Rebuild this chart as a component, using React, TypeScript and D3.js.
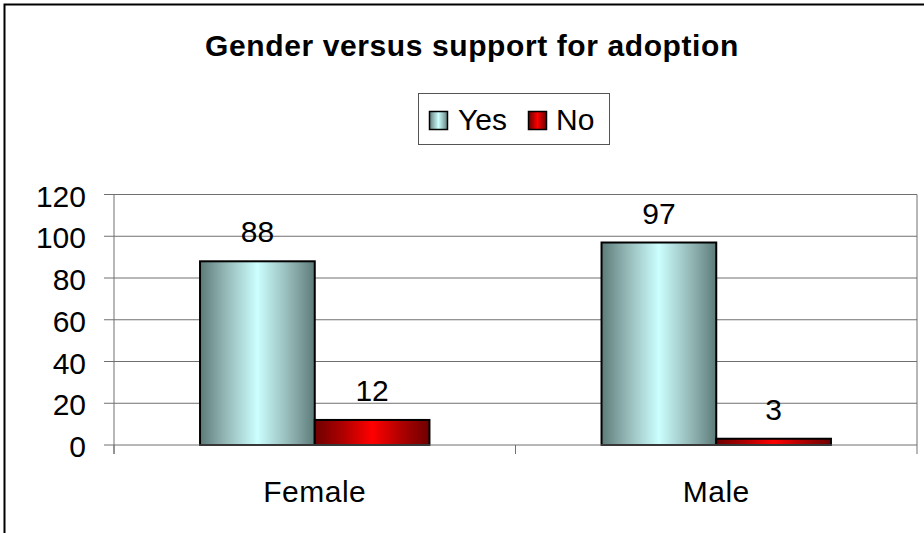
import React from "react";
import * as d3 from "d3";

const categories = ["Female", "Male"];
const seriesNames = ["Yes", "No"];
const yesValues = [88, 97];
const noValues = [12, 3];
const yTicks = [0, 20, 40, 60, 80, 100, 120];
const title = "Gender versus support for adoption";

const W = 924;
const H = 533;
const FONT = "'Liberation Sans', Arial, sans-serif";

export default function App() {
  const left = 114;
  const right = 917;
  const top = 194.5;
  const bottom = 445;

  const x0 = d3.scaleBand<string>().domain(categories).range([left, right]).paddingInner(0).paddingOuter(0);
  const y = d3.scaleLinear().domain([0, 120]).range([bottom, top]);
  const bw = x0.bandwidth();
  const barW = bw / (2 + 1.5);
  const x1 = d3.scaleBand<string>().domain(seriesNames).range([0, barW * 2]);

  const series = [
    { name: "Yes", values: yesValues, grad: "gYes" },
    { name: "No", values: noValues, grad: "gNo" },
  ];

  return (
    <svg width={W} height={H} style={{ position: "absolute", left: 0, top: 0 }} fontFamily={FONT}>
      <defs>
        <linearGradient id="gYes" x1="0" x2="1" y1="0" y2="0">
          <stop offset="0" stopColor="#5c7b79" />
          <stop offset="0.2" stopColor="#8fb2b0" />
          <stop offset="0.5" stopColor="#ccffff" />
          <stop offset="0.8" stopColor="#8fb2b0" />
          <stop offset="1" stopColor="#5c7b79" />
        </linearGradient>
        <linearGradient id="gNo" x1="0" x2="1" y1="0" y2="0">
          <stop offset="0" stopColor="#6e0000" />
          <stop offset="0.25" stopColor="#b00000" />
          <stop offset="0.5" stopColor="#ff0000" />
          <stop offset="0.75" stopColor="#b00000" />
          <stop offset="1" stopColor="#6e0000" />
        </linearGradient>
      </defs>
      <rect x={0} y={0} width={W} height={H} fill="#fff" />
      <rect x={4.5} y={4.5} width={W + 20} height={H + 20} fill="none" stroke="#000" strokeWidth={2} />

      <text x={472} y={56} textAnchor="middle" fontWeight="bold" fontSize={30} letterSpacing={0.6}>
        {title}
      </text>

      {/* Legend */}
      <rect x={418.5} y={93.5} width={191} height={51} fill="#fff" stroke="#555" strokeWidth={1} />
      <rect x={429.5} y={111.5} width={18} height={18} fill="url(#gYes)" stroke="#000" strokeWidth={1.5} />
      <text x={458} y={130} fontSize={30}>Yes</text>
      <rect x={528.5} y={111.5} width={18} height={18} fill="url(#gNo)" stroke="#000" strokeWidth={1.5} />
      <text x={556} y={130} fontSize={30}>No</text>

      {/* gridlines */}
      {yTicks.map((t) => (
        <g key={t}>
          {t > 0 && <line x1={left} x2={right} y1={y(t)} y2={y(t)} stroke="#707070" strokeWidth={1} />}
          <line x1={left - 10} x2={left} y1={y(t)} y2={y(t)} stroke="#707070" strokeWidth={1} />
          <text x={86} y={y(t) + 12} textAnchor="end" fontSize={30}>
            {t}
          </text>
        </g>
      ))}
      <line x1={right} x2={right} y1={top} y2={bottom} stroke="#707070" strokeWidth={1} />
      <line x1={left} x2={left} y1={top} y2={bottom + 9} stroke="#707070" strokeWidth={1} />
      {[...categories.map((c) => x0(c) as number), right].map((xx, i) => (
        <line key={i} x1={xx} x2={xx} y1={bottom} y2={bottom + 9} stroke="#707070" strokeWidth={1} />
      ))}

      {/* bars */}
      {categories.map((c, ci) => {
        const gx = (x0(c) as number) + (bw - barW * 2) / 2;
        return (
          <g key={c}>
            {series.map((s) => {
              const bx = gx + (x1(s.name) as number);
              const v = s.values[ci];
              return (
                <g key={s.name}>
                  <rect x={bx} y={y(v)} width={barW} height={bottom - y(v)} fill={`url(#${s.grad})`} stroke="#000" strokeWidth={2} />
                  <text x={bx + barW / 2} y={y(v) - 19} textAnchor="middle" fontSize={30}>
                    {v}
                  </text>
                </g>
              );
            })}
            <text x={(x0(c) as number) + bw / 2} y={502} textAnchor="middle" fontSize={30} letterSpacing={0.5}>
              {c}
            </text>
          </g>
        );
      })}
      <line x1={left} x2={right} y1={bottom} y2={bottom} stroke="#707070" strokeWidth={1} />
    </svg>
  );
}
